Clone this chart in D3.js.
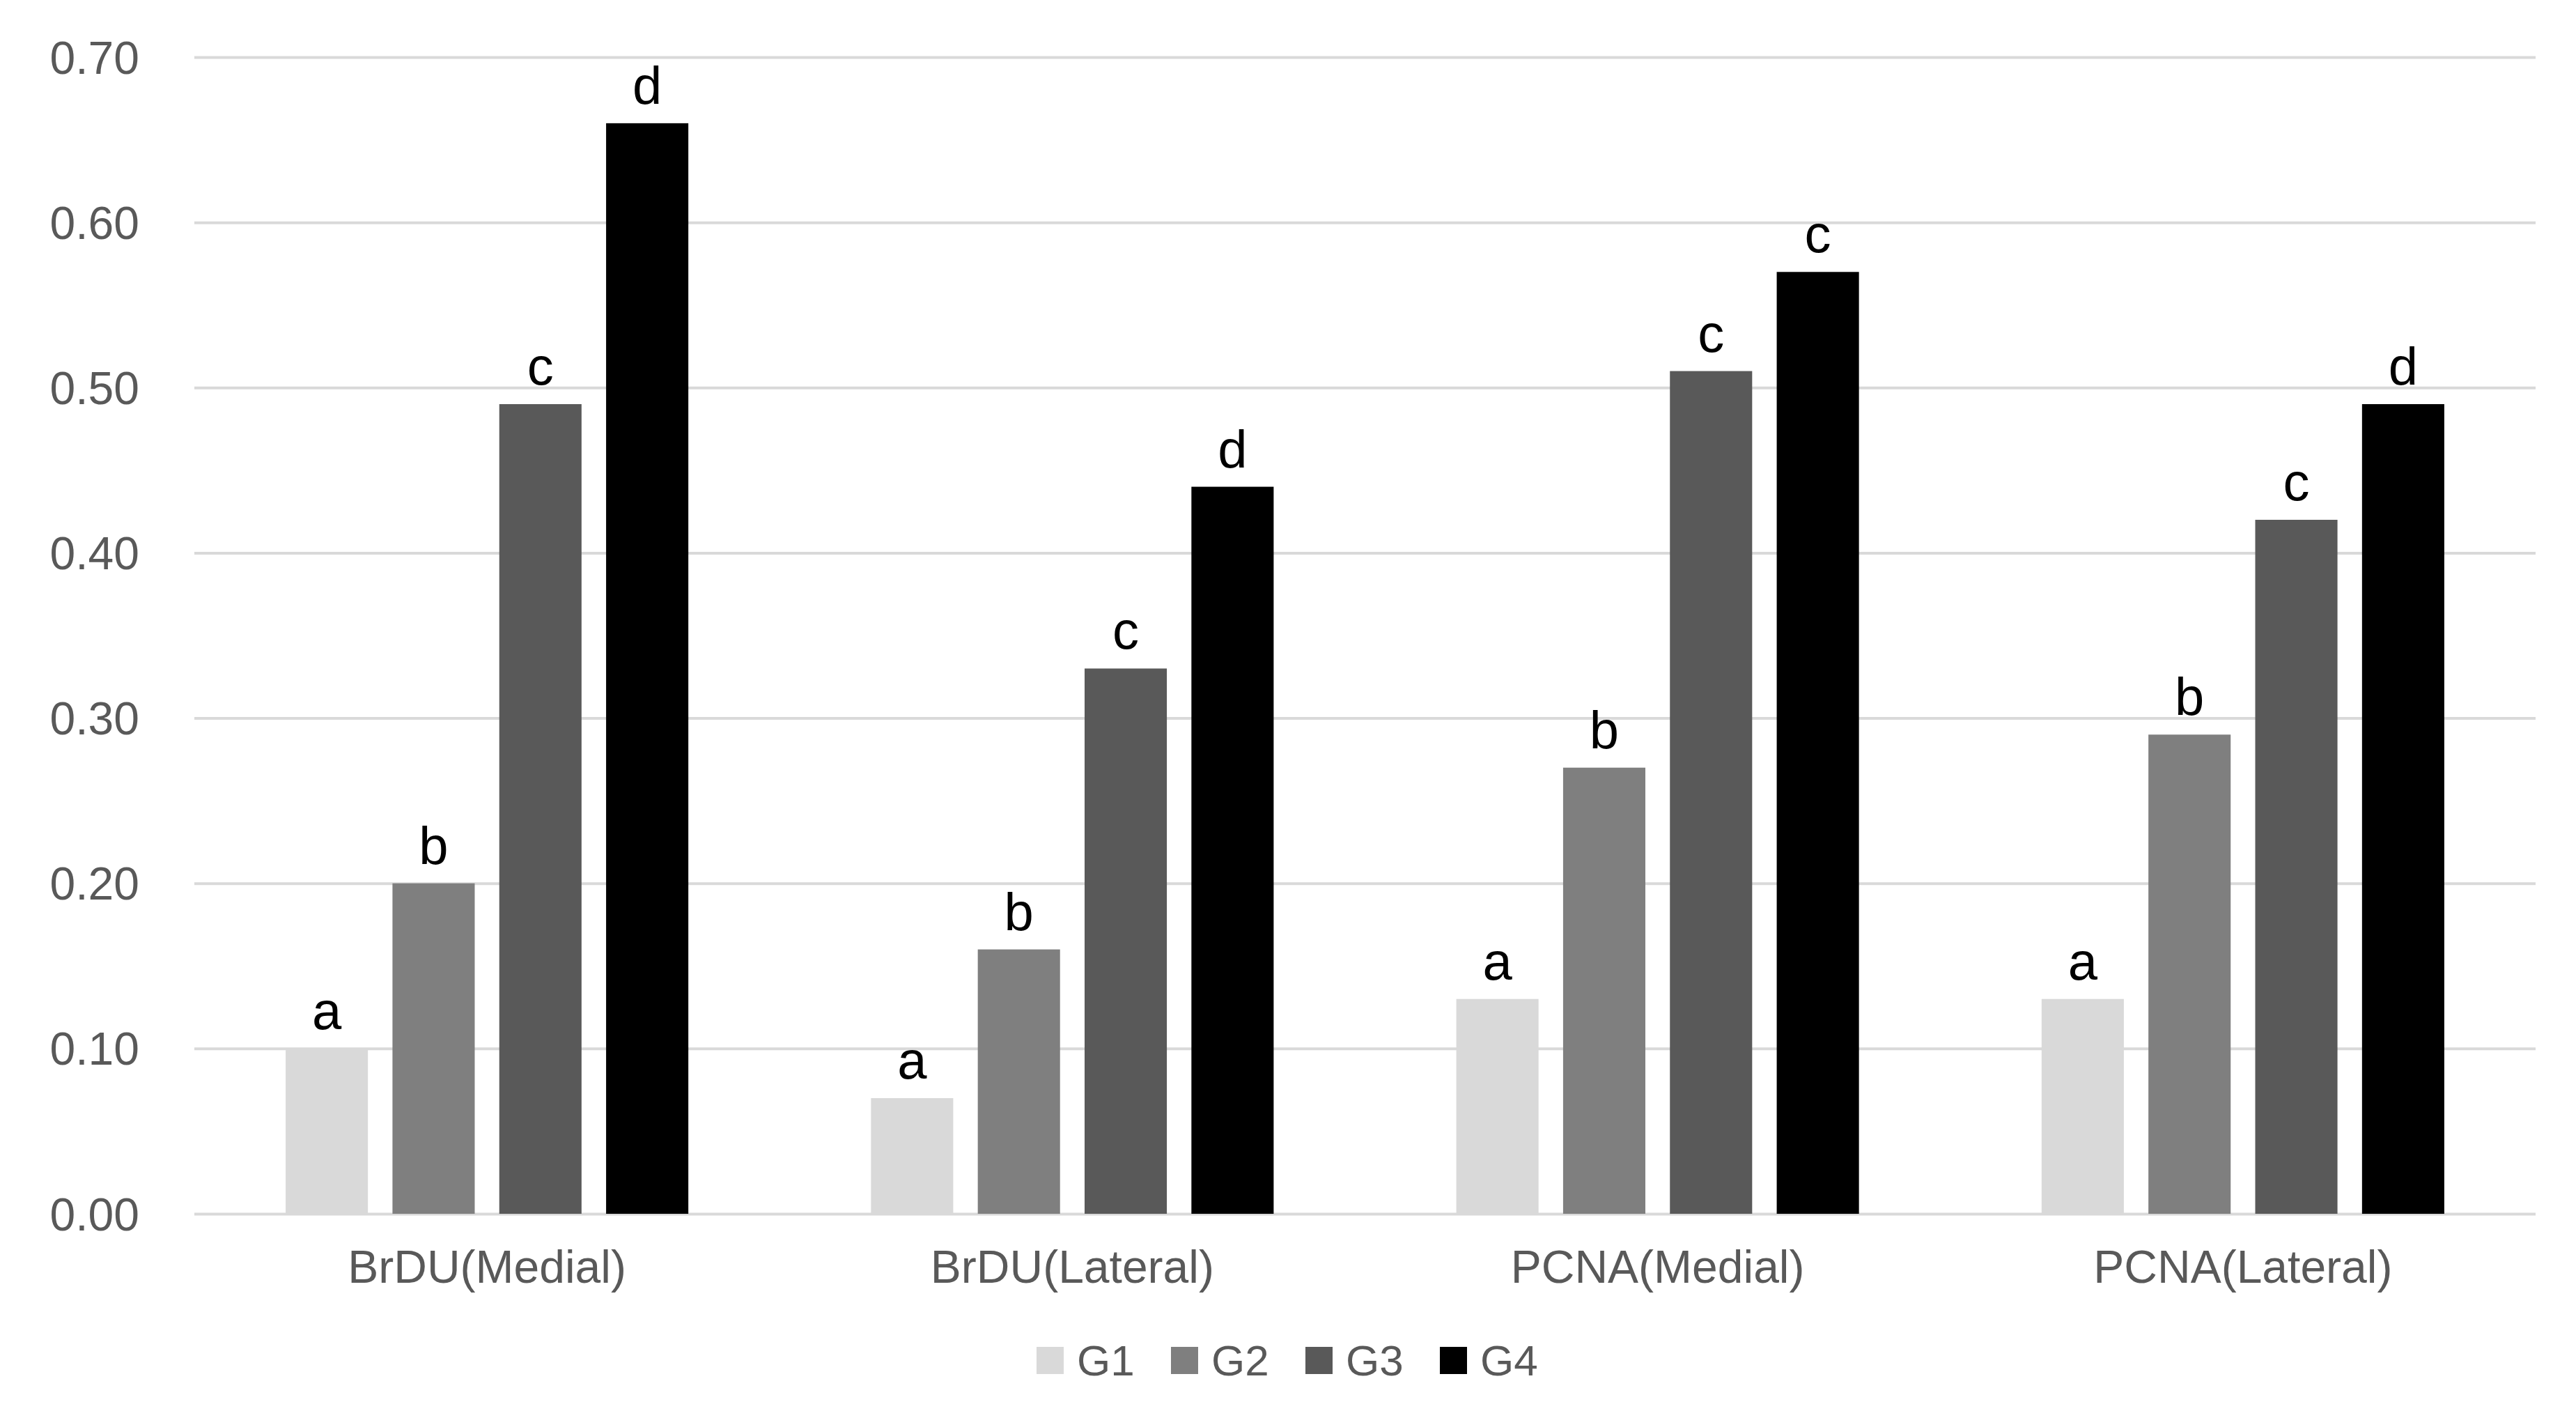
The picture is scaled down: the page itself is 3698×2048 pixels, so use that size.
<!DOCTYPE html>
<html>
<head>
<meta charset="utf-8">
<script src="https://cdn.jsdelivr.net/npm/d3@7"></script>
<style>
  body { margin: 0; background: #fff; }
  text { font-family: "Liberation Sans", Arial, sans-serif; }
</style>
</head>
<body>
<div id="chart"></div>
<script>
// data
var categories = ["BrDU(Medial)", "BrDU(Lateral)", "PCNA(Medial)", "PCNA(Lateral)"];
var groups = ["G1", "G2", "G3", "G4"];
var g1 = [0.10, 0.07, 0.13, 0.13];
var g2 = [0.20, 0.16, 0.27, 0.29];
var g3 = [0.49, 0.33, 0.51, 0.42];
var g4 = [0.66, 0.44, 0.57, 0.49];
var letters = [
  ["a", "b", "c", "d"],
  ["a", "b", "c", "d"],
  ["a", "b", "c", "c"],
  ["a", "b", "c", "d"]
];
var yTicks = [0, 0.1, 0.2, 0.3, 0.4, 0.5, 0.6, 0.7];
var colors = ["#d9d9d9", "#7f7f7f", "#595959", "#000000"];

var width = 3698, height = 2048;
var plotLeft = 279, plotRight = 3640, plotTop = 82, plotBottom = 1742;

var series = [g1, g2, g3, g4];

var svg = d3.select("#chart").append("svg")
    .attr("width", width)
    .attr("height", height);

var x0 = d3.scaleBand().domain(categories).range([plotLeft, plotRight]).padding(0);
var x1 = d3.scaleBand().domain(groups).range([0, x0.bandwidth()])
    .paddingInner(0.23).paddingOuter(0.855);
var y = d3.scaleLinear().domain([0, 0.7]).range([plotBottom, plotTop]);

// y axis + grid
var yAxis = svg.append("g")
    .attr("transform", "translate(" + plotLeft + ",0)")
    .call(d3.axisLeft(y).tickValues(yTicks).tickFormat(d3.format(".2f"))
        .tickSize(-(plotRight - plotLeft)).tickPadding(79));
yAxis.select(".domain").remove();
yAxis.selectAll(".tick line").attr("stroke", "#d9d9d9").attr("stroke-width", 4);
yAxis.selectAll(".tick text")
    .attr("fill", "#595959")
    .style("font-size", "66px")
    .attr("dy", "0.35em");

// x axis
var xAxis = svg.append("g")
    .attr("transform", "translate(0," + plotBottom + ")")
    .call(d3.axisBottom(x0).tickSize(0).tickPadding(52));
xAxis.select(".domain").remove();
xAxis.selectAll(".tick text")
    .attr("fill", "#595959")
    .style("font-size", "66px");

// bars
var rows = categories.map(function(c, i) {
  return groups.map(function(g, j) {
    return {cat: c, grp: g, value: series[j][i], letter: letters[i][j], color: colors[j]};
  });
});

var cat = svg.selectAll("g.cat")
    .data(rows)
    .enter().append("g")
    .attr("class", "cat")
    .attr("transform", function(d, i) { return "translate(" + x0(categories[i]) + ",0)"; });

cat.selectAll("rect")
    .data(function(d) { return d; })
    .enter().append("rect")
    .attr("x", function(d) { return x1(d.grp); })
    .attr("y", function(d) { return y(d.value); })
    .attr("width", x1.bandwidth())
    .attr("height", function(d) { return plotBottom - y(d.value); })
    .attr("fill", function(d) { return d.color; });

cat.selectAll("text.lab")
    .data(function(d) { return d; })
    .enter().append("text")
    .attr("class", "lab")
    .attr("x", function(d) { return x1(d.grp) + x1.bandwidth() / 2; })
    .attr("y", function(d) { return y(d.value) - 28; })
    .attr("text-anchor", "middle")
    .attr("fill", "#000")
    .style("font-size", "76px")
    .text(function(d) { return d.letter; });

// legend
var itemW = 193, legX = 1488, legY = 1952;
var leg = svg.selectAll("g.leg")
    .data(groups)
    .enter().append("g")
    .attr("class", "leg")
    .attr("transform", function(d, i) { return "translate(" + (legX + i * itemW) + "," + legY + ")"; });
leg.append("rect")
    .attr("x", 0).attr("y", -19)
    .attr("width", 39).attr("height", 39)
    .attr("fill", function(d, i) { return colors[i]; });
leg.append("text")
    .attr("x", 58).attr("y", 0)
    .attr("dy", "0.35em")
    .attr("fill", "#595959")
    .style("font-size", "62px")
    .text(function(d) { return d; });
</script>
</body>
</html>
